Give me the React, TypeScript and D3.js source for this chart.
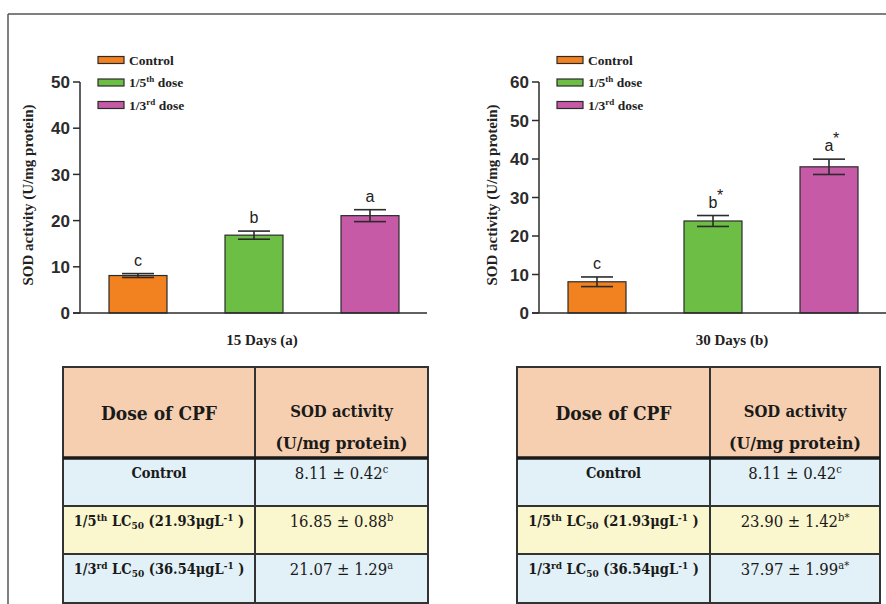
import React from 'react';
import * as d3 from 'd3';

// groups and colours
const groups = ['Control', '1/5th dose', '1/3rd dose'];
const legendMain = ['Control', '1/5', '1/3'];
const legendSup = ['', 'th', 'rd'];
const barColors = ['#F2811F', '#6CBE45', '#C65AA6'];

// 15 days
const sod15 = [8.11, 16.85, 21.07];
const err15 = [0.42, 0.88, 1.29];
const letters15 = ['c', 'b', 'a'];
const stars15 = ['', '', ''];
const ticks15 = [0, 10, 20, 30, 40, 50];

// 30 days
const sod30 = [8.11, 23.9, 37.97];
const err30 = [0.42, 1.42, 1.99];
const err30Plot = [1.25, 1.42, 1.99]; // error bars as drawn in the plot
const letters30 = ['c', 'b', 'a'];
const stars30 = ['', '*', '*'];
const ticks30 = [0, 10, 20, 30, 40, 50, 60];

// table rows
const doseFrac = ['', '1/5', '1/3'];
const doseSup = ['', 'th', 'rd'];
const doseConc = ['', '21.93', '36.54'];

const AX = '#2b2b2b';
const TIMES = '"Liberation Serif", "Times New Roman", serif';
const ARIAL = '"Liberation Sans", Arial, sans-serif';
const CAMB = '"DejaVu Serif Condensed", "DejaVu Serif", serif';

type PanelProps = {
  values: number[];
  errs: number[];
  letters: string[];
  stars: string[];
  ticks: number[];
  yMax: number;
  axisX: number;
  bandRange: [number, number];
  lineEnd: number;
  title: string;
  titleX: number;
  legendX: number;
  yTitleX: number;
};

function Panel(p: PanelProps) {
  const y = d3.scaleLinear().domain([0, p.yMax]).range([313, 82]);
  const x = d3.scaleBand<string>().domain(groups).range(p.bandRange).paddingInner(0.5).paddingOuter(0.25);
  const bw = x.bandwidth();
  const capW = 32;

  return (
    <g>
      {/* bars */}
      {groups.map((g, i) => (
        <rect key={g} x={x(g)} y={y(p.values[i])} width={bw} height={y(0) - y(p.values[i])}
          fill={barColors[i]} stroke={AX} strokeWidth={1.2} />
      ))}
      {/* error bars */}
      {groups.map((g, i) => {
        const cx = (x(g) as number) + bw / 2;
        const top = y(p.values[i] + p.errs[i]);
        const bot = y(p.values[i] - p.errs[i]);
        return (
          <g key={g} stroke={AX} strokeWidth={1.6}>
            <line x1={cx} x2={cx} y1={top} y2={bot} />
            <line x1={cx - capW / 2} x2={cx + capW / 2} y1={top} y2={top} />
            <line x1={cx - capW / 2} x2={cx + capW / 2} y1={bot} y2={bot} />
          </g>
        );
      })}
      {/* significance letters */}
      {groups.map((g, i) => {
        const cx = (x(g) as number) + bw / 2;
        const base = y(p.values[i] + p.errs[i]) - 8;
        return (
          <g key={g} fontFamily={ARIAL} fill="#222">
            <text x={cx} y={base} textAnchor="middle" fontSize={16}>{p.letters[i]}</text>
            {p.stars[i] && (
              <text x={cx + 4} y={base - 7} fontSize={16}>{p.stars[i]}</text>
            )}
          </g>
        );
      })}
      {/* axes */}
      <line x1={p.axisX} x2={p.axisX} y1={y(p.yMax)} y2={y(0)} stroke={AX} strokeWidth={1.5} />
      <line x1={p.axisX - 7} x2={p.lineEnd} y1={y(0)} y2={y(0)} stroke={AX} strokeWidth={1.5} />
      {p.ticks.map(t => (
        <g key={t}>
          <line x1={p.axisX - 7} x2={p.axisX} y1={y(t)} y2={y(t)} stroke={AX} strokeWidth={1.5} />
          <text x={p.axisX - 10} y={y(t)} dy="0.36em" textAnchor="end" fontFamily={ARIAL}
            fontWeight="bold" fontSize={17} fill="#2b2b2b">{t}</text>
        </g>
      ))}
      <text transform={`translate(${p.yTitleX},195) rotate(-90)`} textAnchor="middle" dy="0.35em"
        fontFamily={TIMES} fontWeight="bold" fontSize={15} fill="#222">SOD activity (U/mg protein)</text>
      <text x={p.titleX} y={345} textAnchor="middle" fontFamily={TIMES} fontWeight="bold"
        fontSize={15} fill="#222">{p.title}</text>
      {/* legend */}
      {groups.map((g, i) => {
        const ry = 60 + i * 22.5;
        return (
          <g key={g}>
            <rect x={p.legendX} y={ry - 3.5} width={26} height={7} fill={barColors[i]} stroke={AX} strokeWidth={1.2} />
            <text x={p.legendX + 31} y={ry + 4.5} fontFamily={TIMES} fontWeight="bold" fontSize={13.5} fill="#222">
              {legendMain[i]}
              {legendSup[i] && <tspan dy={-5} fontSize={9}>{legendSup[i]}</tspan>}
              {legendSup[i] && <tspan dy={5}> dose</tspan>}
            </text>
          </g>
        );
      })}
    </g>
  );
}

type TableProps = {
  x0: number;
  x1: number;
  xDiv: number;
  values: number[];
  errs: number[];
  letters: string[];
  stars: string[];
};

function Table(t: TableProps) {
  const rowEdges = [367, 458, 506, 554, 604];
  const rowFill = ['#F5CFB0', '#E2F1F7', '#FAF6CD', '#E2F1F7'];
  const c1 = (t.x0 + t.xDiv) / 2;
  const c2 = (t.xDiv + t.x1) / 2;
  return (
    <g>
      {rowFill.map((f, i) => (
        <rect key={i} x={t.x0} y={rowEdges[i]} width={t.x1 - t.x0} height={rowEdges[i + 1] - rowEdges[i]} fill={f} />
      ))}
      <text x={c1} y={420} textAnchor="middle" fontFamily={CAMB} fontWeight="bold" fontSize={19} fill="#1a1a1a">Dose of CPF</text>
      <text x={c2} y={417} textAnchor="middle" fontFamily={CAMB} fontWeight="bold" fontSize={16.5} fill="#1a1a1a">SOD activity</text>
      <text x={c2} y={449} textAnchor="middle" fontFamily={CAMB} fontWeight="bold" fontSize={17.5} fill="#1a1a1a">(U/mg protein)</text>
      {t.values.map((v, i) => {
        const yb = rowEdges[i + 1] + 20;
        return (
          <g key={i} fill="#1a1a1a">
            <text x={c1} y={yb} textAnchor="middle" fontFamily={CAMB} fontWeight="bold" fontSize={14.5}>
              {doseFrac[i] === '' ? 'Control' : (
                <>
                  {doseFrac[i]}
                  <tspan dy={-5} fontSize={10}>{doseSup[i]}</tspan>
                  <tspan dy={5}> LC</tspan>
                  <tspan dy={3} fontSize={10}>50</tspan>
                  <tspan dy={-3}> ({doseConc[i]}μgL</tspan>
                  <tspan dy={-5} fontSize={10}>-1</tspan>
                  <tspan dy={5}> )</tspan>
                </>
              )}
            </text>
            <text x={c2} y={yb + 1} textAnchor="middle" fontFamily={CAMB} fontSize={16.5}>
              {v.toFixed(2)} ± {t.errs[i].toFixed(2)}
              <tspan dy={-6} fontSize={11}>{t.letters[i]}{t.stars[i]}</tspan>
            </text>
          </g>
        );
      })}
      <g stroke="#333" strokeWidth={2}>
        <line x1={t.x0} x2={t.x0} y1={367} y2={604} />
        <line x1={t.x1} x2={t.x1} y1={367} y2={604} />
        <line x1={t.xDiv} x2={t.xDiv} y1={367} y2={604} />
        <line x1={t.x0 - 1} x2={t.x1 + 1} y1={367} y2={367} />
        <line x1={t.x0} x2={t.x1} y1={506} y2={506} />
        <line x1={t.x0} x2={t.x1} y1={554} y2={554} />
        <line x1={t.x0} x2={t.x1} y1={603} y2={603} />
      </g>
      <line x1={t.x0} x2={t.x1} y1={458} y2={458} stroke="#1a1a1a" strokeWidth={3.5} />
    </g>
  );
}

export default function App() {
  return (
    <svg width={886} height={604} style={{ position: 'absolute', left: 0, top: 0, background: '#fff' }}>
      <rect width={886} height={604} fill="#fff" />
      {/* figure frame */}
      <line x1={8} x2={886} y1={14} y2={14} stroke="#555" strokeWidth={1.5} />
      <line x1={8} x2={8} y1={14} y2={604} stroke="#555" strokeWidth={1.5} />

      <Panel values={sod15} errs={err15} letters={letters15} stars={stars15} ticks={ticks15} yMax={50}
        axisX={80} bandRange={[80, 428]} lineEnd={427} title="15 Days (a)" titleX={262}
        legendX={98} yTitleX={28} />
      <Panel values={sod30} errs={err30Plot} letters={letters30} stars={stars30} ticks={ticks30} yMax={60}
        axisX={539} bandRange={[539, 887]} lineEnd={886} title="30 Days (b)" titleX={732}
        legendX={557} yTitleX={492} />

      <Table x0={63} x1={428} xDiv={255} values={sod15} errs={err15} letters={letters15} stars={stars15} />
      <Table x0={517} x1={880} xDiv={710} values={sod30} errs={err30} letters={letters30} stars={stars30} />
    </svg>
  );
}
